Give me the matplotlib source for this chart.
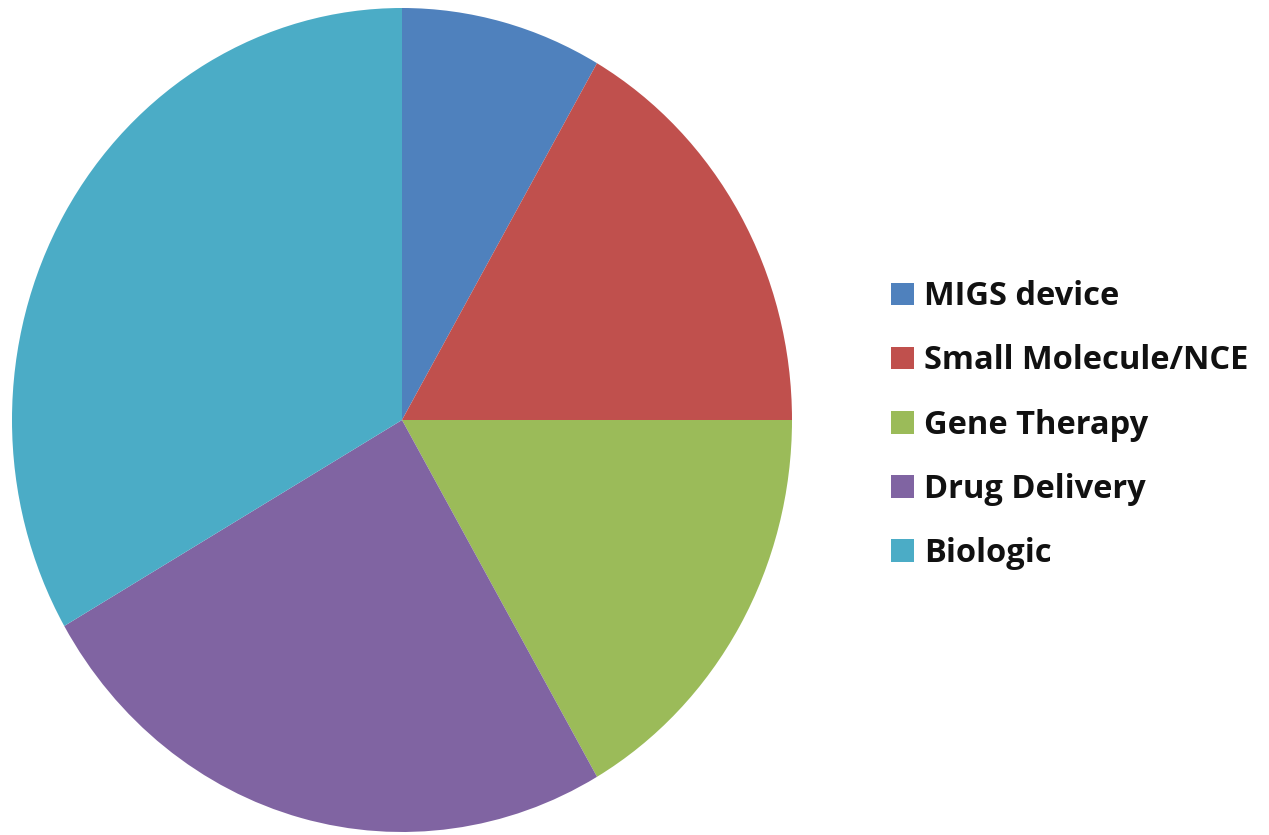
import matplotlib.pyplot as plt
from matplotlib.patches import Patch

labels = ["MIGS device", "Small Molecule/NCE", "Gene Therapy", "Drug Delivery", "Biologic"]
counts = [1, 2, 2, 3, 4]
colors = ["#4F81BD", "#C0504D", "#9BBB59", "#8064A2", "#4BACC6"]

W, H = 1269, 835
fig = plt.figure(figsize=(W / 100, H / 100), dpi=100)

# pie box in pixels (slightly taller than wide, as in the source image)
ax = fig.add_axes([12 / W, 3 / H, 780 / W, 824 / H])
ax.pie(counts, colors=colors, startangle=90, counterclock=False,
       wedgeprops=dict(linewidth=0))
ax.set_aspect("auto")
ax.set_xlim(-1, 1)
ax.set_ylim(-1, 1)
ax.axis("off")

handles = [Patch(facecolor=c, edgecolor="none") for c in colors]
leg = fig.legend(handles, labels, loc="center left",
                 bbox_to_anchor=(862 / W, (H - 425) / H),
                 frameon=False, handlelength=0.7, handleheight=0.7,
                 handletextpad=0.3, labelspacing=0.95,
                 prop=dict(family="Open Sans", weight="bold", size=23.5))
for t in leg.get_texts():
    t.set_color("#111111")

fig.savefig("out.png", dpi=100)
